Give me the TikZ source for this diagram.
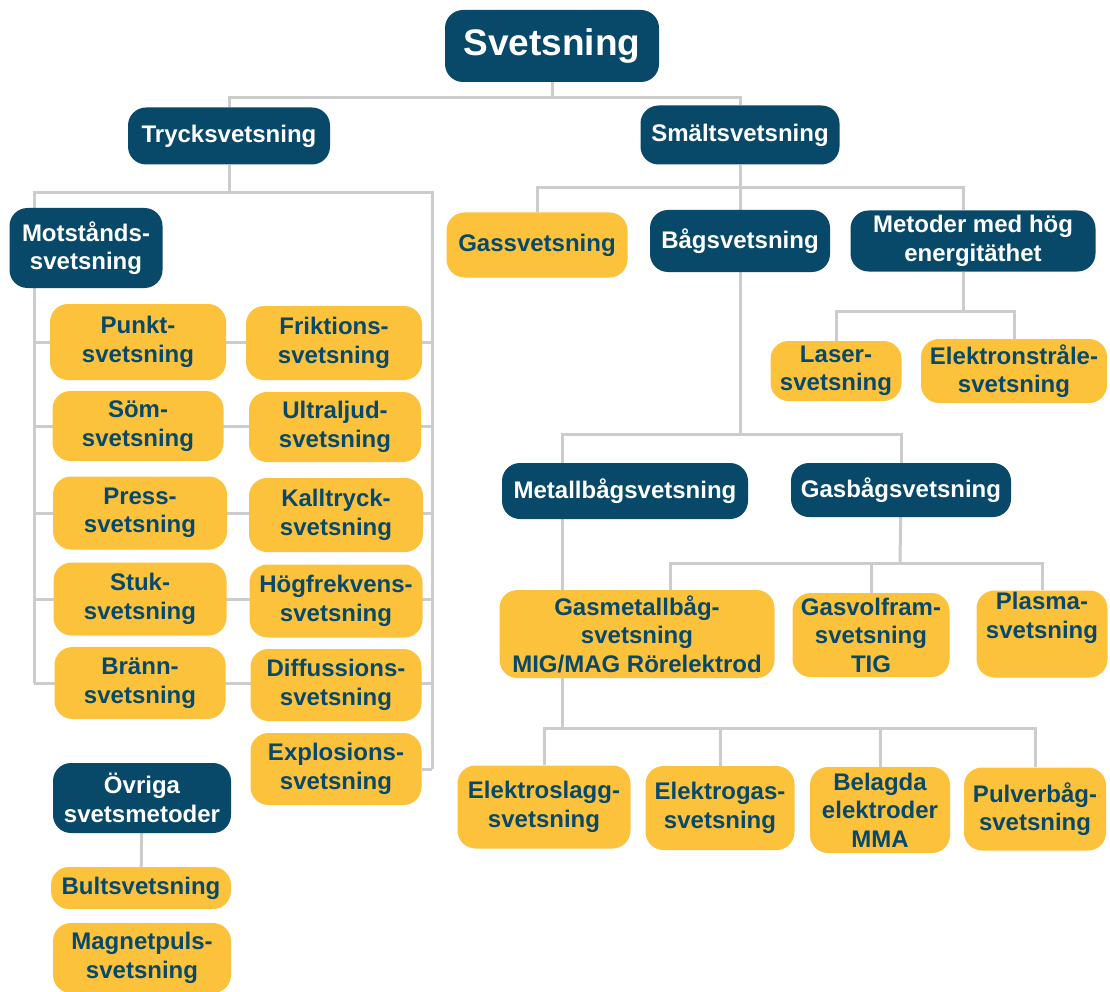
\documentclass[tikz,border=0pt]{standalone}
\usepackage{fontspec}
\setmainfont{Liberation Sans}
\usepackage{tikz}
\usetikzlibrary{backgrounds}
\definecolor{navy}{HTML}{08496A}
\definecolor{gold}{HTML}{FDC23C}
\definecolor{wire}{HTML}{CCCCCC}
\tikzset{
  basebox/.style={rounded corners=18pt, align=center, inner sep=0pt,
    font=\bfseries\fontsize{24}{28.5}\selectfont},
  headbox/.style={basebox, fill=navy, text=white},
  leafbox/.style={basebox, fill=gold, text=navy},
  sz/.style 2 args={minimum width=#1pt, minimum height=#2pt},
  link/.style={draw=wire, line width=3pt},
}
\begin{document}
\begin{tikzpicture}[x=1pt, y=-1pt]
            \useasboundingbox (0,0) rectangle (1110,992);

            \node[headbox, sz={214}{72}, font=\bfseries\fontsize{37}{40}\selectfont] (svets) at (552,46) {Svetsning};
            \node[headbox, sz={202}{57}] (tryck) at (229,136) {Trycksvetsning};
            \node[headbox, sz={199}{59}] (smalt) at (740,135) {Smältsvetsning};

            \node[headbox, sz={153}{80}] (motst) at (86,248) {Motstånds-\\svetsning};
            \node[leafbox, sz={176}{76}] (punkt) at (138,342) {Punkt-\\svetsning};
            \node[leafbox, sz={176}{74}] (frik) at (334,343) {Friktions-\\svetsning};
            \node[leafbox, sz={171}{70}] (som) at (138,426) {Söm-\\svetsning};
            \node[leafbox, sz={172}{70}] (ultra) at (335,427) {Ultraljud-\\svetsning};
            \node[leafbox, sz={174}{73}] (press) at (140,513) {Press-\\svetsning};
            \node[leafbox, sz={174}{74}] (kall) at (336,515) {Kalltryck-\\svetsning};
            \node[leafbox, sz={173}{73}] (stuk) at (140,599) {Stuk-\\svetsning};
            \node[leafbox, sz={173}{73}] (hogf) at (336,601) {Högfrekvens-\\svetsning};
            \node[leafbox, sz={171}{72}] (brann) at (140,683) {Bränn-\\svetsning};
            \node[leafbox, sz={171}{72}] (diff) at (336,685) {Diffussions-\\svetsning};
            \node[leafbox, sz={171}{72}] (explo) at (336,769) {Explosions-\\svetsning};

            \node[headbox, sz={178}{70}] (ovriga) at (142,798) {Övriga\\svetsmetoder};
            \node[leafbox, sz={180}{42}] (bult) at (141,888) {Bultsvetsning};
            \node[leafbox, sz={178}{70}] (magnet) at (142,958) {Magnetpuls-\\svetsning};

            \node[leafbox, sz={181}{65}] (gas) at (537,245) {Gassvetsning};
            \node[headbox, sz={180}{62}] (bag) at (740,241) {Bågsvetsning};
            \node[headbox, sz={245}{61}] (energi) at (973,241) {Metoder med hög\\energitäthet};
            \node[leafbox, sz={131}{60}] (laser) at (836,371) {Laser-\\svetsning};
            \node[leafbox, sz={186}{64}] (elstr) at (1014,371) {Elektronstråle-\\svetsning};

            \node[headbox, sz={246}{56}] (metall) at (625,491) {Metallbågsvetsning};
            \node[headbox, sz={220}{54}] (gasbag) at (901,490) {Gasbågsvetsning};
            \node[leafbox, sz={275}{88}] (mig) at (637,634) {Gasmetallbåg-\\svetsning\\MIG/MAG Rörelektrod};
            \node[leafbox, sz={157}{84}] (tig) at (871,635) {Gasvolfram-\\svetsning\\TIG};
            \node[leafbox, sz={131}{87}] (plasma) at (1042,634) {Plasma-\\svetsning\\\strut};

            \node[leafbox, sz={173}{83}] (eslagg) at (544,807) {Elektroslagg-\\svetsning};
            \node[leafbox, sz={149}{84}] (egas) at (720,808) {Elektrogas-\\svetsning};
            \node[leafbox, sz={140}{86}] (mma) at (880,810) {Belagda\\elektroder\\MMA};
            \node[leafbox, sz={142}{83}] (pulver) at (1035,809) {Pulverbåg-\\svetsning};

            \begin{scope}[on background layer]
            \fill[white] (0,0) rectangle (1110,992);
            \coordinate (lrail) at (34,193);
            \coordinate (rrail) at (432,193);
            \coordinate (sbus) at (740,188);
            \coordinate (ebus) at (963,311);
            \coordinate (bbus) at (740,434);
            \coordinate (mstem) at (562,434);
            \coordinate (gbus) at (900,563);
            \coordinate (gleft) at (670,563);
            \coordinate (mbus) at (562,728);

            \draw[link] (svets.south) -- ++(0,14);
            \draw[link] (tryck.north) -- ++(0,-10) -| (smalt.north);

            \draw[link] (tryck.south) -- (tryck.south |- lrail);
            \draw[link] (lrail |- brann) -- (lrail) -- (rrail) -- (rrail |- explo);
            \foreach \n in {punkt,som,press,stuk,brann}
              \draw[link] (lrail |- \n) -- (rrail |- \n);
            \draw[link] (explo) -- (rrail |- explo);
            \draw[link] (ovriga) -- (bult);

            \draw[link] (smalt) -- (bag);
            \draw[link] (gas.north) |- (sbus) -| (ebus |- energi.north);
            \draw[link] (ebus |- energi.south) -- (ebus);
            \draw[link] (laser.north) |- (ebus) -| (elstr.north);

            \draw[link] (bag) -- (bbus);
            \draw[link] (gasbag.north) |- (bbus) -- (mstem) -- (mbus);
            \draw[link] (gasbag) -- (gbus);
            \draw[link] (gleft |- mig.north) -- (gleft) -- (gbus) -| (plasma.north);
            \draw[link] (tig.north) -- (tig.north |- gbus);

            \draw[link] (eslagg.north) |- (mbus) -| (pulver.north);
            \draw[link] (egas.north) -- (egas.north |- mbus);
            \draw[link] (mma.north) -- (mma.north |- mbus);
            \end{scope}
        \end{tikzpicture}
\end{document}
